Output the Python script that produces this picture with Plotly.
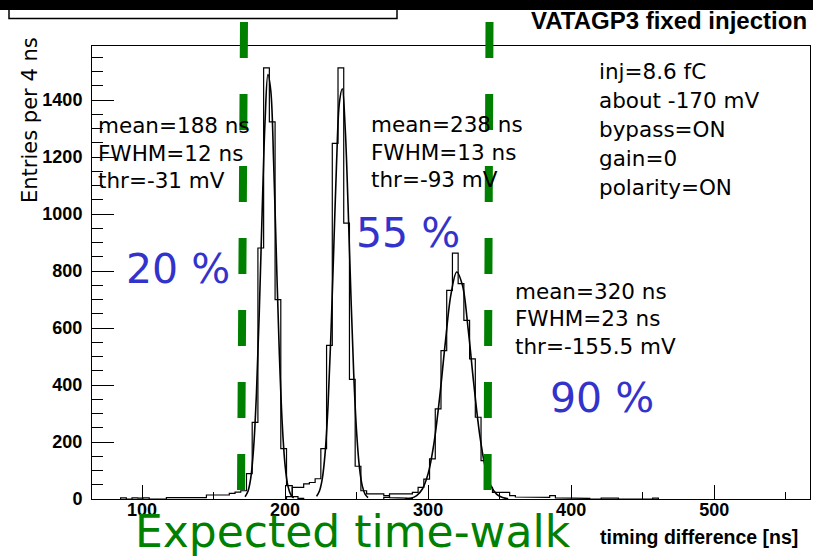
import plotly.graph_objects as go

# ---------------- data ----------------
BIN_W = 4  # ns per bin

hist1_first_edge = 85
hist1_counts = [4, 0, 4, 3, 4, 0, 0, 0, 5, 5, 5, 5, 5, 5, 5, 14, 14, 14, 14, 20, 24, 29,
                89, 269, 881, 1513, 1324, 700, 177, 47, 8, 2]

hist2_first_edge = 201
hist2_counts = [8, 41, 41, 53, 58, 71, 177, 539, 1248, 1513, 968, 420, 115, 29, 18, 18,
                18, 12, 5, 4, 3, 2]

hist3_first_edge = 269
hist3_counts = [6, 18, 18, 18, 18, 23, 41, 70, 141, 316, 521, 732, 863, 756, 627, 492, 287,
                135, 41, 23, 23, 23, 12, 7, 6, 6, 6, 6, 6, 12, 4, 2, 2, 2, 2, 2, 0, 0, 3,
                3, 3, 0, 0, 0, 0, 0, 0, 3]

fit1_x = [172, 174, 176, 178, 180, 182, 184, 186, 188, 190, 192, 194, 196, 198, 200, 202, 204, 206]
fit1_y = [8, 26, 73, 180, 373, 664, 1013, 1327, 1490, 1433, 1181, 836, 507, 265, 118, 45, 15, 4]

fit2_x = [222, 224, 226, 228, 230, 232, 234, 236, 238, 240, 242, 244, 246, 248, 250, 252, 254, 256, 258]
fit2_y = [9, 28, 71, 162, 326, 571, 876, 1181, 1392, 1440, 1304, 1035, 719, 438, 235, 110, 45, 16, 5]

fit3_x = [284, 288, 292, 296, 300, 304, 308, 312, 316, 320, 324, 328, 332, 336, 340, 344, 348, 352, 356]
fit3_y = [1, 3, 12, 35, 89, 193, 354, 548, 719, 797, 750, 596, 401, 228, 110, 45, 16, 5, 1]

x_range = [65, 567]
y_range = [0, 1590]
x_tick_step = 100
y_tick_step = 200

title_text = "VATAGP3 fixed injection"
x_title = "timing difference [ns]"
y_title = "Entries per 4 ns"

# ---------------- geometry helpers ----------------
W, H = 813, 559
ML, MR, MT, MB = 92, 3, 46, 60
PW = W - ML - MR
PH = H - MT - MB


def px2x(px):
    return (px - ML) / PW


def px2y(py):
    return (H - MB - py) / PH


def step_xy(first, counts):
    edges = [first + BIN_W * i for i in range(len(counts) + 1)]
    xs, ys = [edges[0]], [0]
    for i, c in enumerate(counts):
        xs += [edges[i], edges[i + 1]]
        ys += [c, c]
    xs.append(edges[-1])
    ys.append(0)
    return xs, ys


fig = go.Figure()

for first, counts in [(hist1_first_edge, hist1_counts),
                      (hist2_first_edge, hist2_counts),
                      (hist3_first_edge, hist3_counts)]:
    xs, ys = step_xy(first, counts)
    fig.add_trace(go.Scatter(x=xs, y=ys, mode="lines",
                             line=dict(color="black", width=1.2),
                             hoverinfo="skip"))

for fx, fy in [(fit1_x, fit1_y), (fit2_x, fit2_y), (fit3_x, fit3_y)]:
    fig.add_trace(go.Scatter(x=fx, y=fy, mode="lines",
                             line=dict(color="black", width=1.6, shape="spline"),
                             hoverinfo="skip"))

axis_common = dict(showgrid=False, zeroline=False, showline=True, linecolor="black",
                   linewidth=1, mirror=True, ticks="inside", tickcolor="black",
                   tickwidth=1,
                   tickfont=dict(family="Liberation Sans", size=18, color="black",
                                 weight="bold"))

fig.update_xaxes(range=x_range, tick0=0, dtick=x_tick_step, ticklen=14,
                 minor=dict(dtick=50, tick0=0, ticklen=7, ticks="inside",
                            tickcolor="black", showgrid=False),
                 ticklabelstandoff=-6,
                 **axis_common)
fig.update_yaxes(range=y_range, tick0=0, dtick=y_tick_step, ticklen=22,
                 minor=dict(dtick=50, tick0=0, ticklen=11, ticks="inside",
                            tickcolor="black", showgrid=False),
                 ticklabelstandoff=5,
                 **axis_common)

TXT = dict(family="DejaVu Sans", size=21.5, color="black")
ann = []


def txt(s, x, y, font=TXT, xanchor="left", yanchor="middle", angle=0):
    ann.append(dict(text=s, x=px2x(x), y=px2y(y), xref="paper", yref="paper",
                    showarrow=False, xanchor=xanchor, yanchor=yanchor,
                    font=font, textangle=angle))


for i, s in enumerate(["mean=188 ns", "FWHM=12 ns", "thr=-31 mV"]):
    txt(s, 96, 125 + 28 * i)
for i, s in enumerate(["mean=238 ns", "FWHM=13 ns", "thr=-93 mV"]):
    txt(s, 369, 124 + 28 * i)
for i, s in enumerate(["inj=8.6 fC", "about -170 mV", "bypass=ON", "gain=0", "polarity=ON"]):
    txt(s, 597, 72 + 28.8 * i)
for i, s in enumerate(["mean=320 ns", "FWHM=23 ns", "thr=-155.5 mV"]):
    txt(s, 513, 291 + 27.5 * i)

PCT = dict(family="DejaVu Sans", size=41, color="#3333cc")
txt("20 %", 178, 269, font=PCT, xanchor="center")
txt("55 %", 408, 233, font=PCT, xanchor="center")
txt("90 %", 602, 398, font=PCT, xanchor="center")

txt("Expected time-walk", 353, 531, font=dict(family="DejaVu Sans", size=44, color="#008000"),
    xanchor="center")
txt(x_title, 800, 537, font=dict(family="Liberation Sans", size=19.5, color="black",
                                 weight="bold"), xanchor="right")
txt(title_text, 809, 21, font=dict(family="Liberation Sans", size=24, color="black",
                                   weight="bold"),
    xanchor="right")
txt(y_title, 30, 35, font=dict(family="DejaVu Sans", size=21, color="black"),
    xanchor="center", yanchor="top", angle=-90)

shapes = [
    dict(type="rect", xref="paper", yref="paper", x0=px2x(9), x1=px2x(397),
         y0=px2y(4), y1=px2y(18.5), line=dict(color="black", width=1.5), fillcolor="white"),
    dict(type="rect", xref="paper", yref="paper", x0=px2x(0), x1=px2x(813),
         y0=px2y(0), y1=px2y(10), line=dict(width=0), fillcolor="black"),
    dict(type="line", xref="paper", yref="paper", x0=px2x(244), y0=px2y(22),
         x1=px2x(241), y1=px2y(490),
         line=dict(color="#008000", width=8, dash="36px,36px")),
    dict(type="line", xref="paper", yref="paper", x0=px2x(489.5), y0=px2y(22),
         x1=px2x(487.5), y1=px2y(490),
         line=dict(color="#008000", width=8, dash="36px,36px")),
]

fig.update_layout(width=W, height=H, margin=dict(l=ML, r=MR, t=MT, b=MB),
                  paper_bgcolor="white", plot_bgcolor="white", showlegend=False,
                  annotations=ann, shapes=shapes)

fig.write_html("out.html")
